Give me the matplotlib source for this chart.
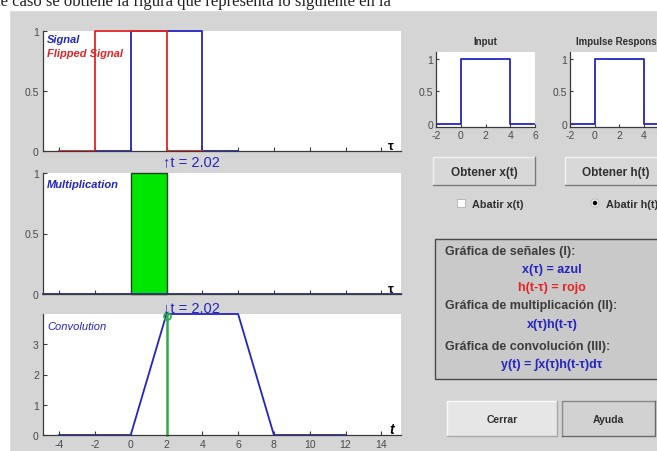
import numpy as np
import matplotlib.pyplot as plt
from matplotlib.patches import Rectangle, Circle

plt.rcParams['font.family'] = ['Liberation Sans', 'DejaVu Sans']
plt.rcParams['axes.unicode_minus'] = False

# instante de desplazamiento mostrado
t_shift = 2.02

# señal x(tau) y respuesta al impulso h(t)
tau_x = [-2, 0, 0, 4, 4, 6]
x_vals = [0, 0, 1, 1, 0, 0]
tau_h = [-2, 0, 0, 4, 4, 6]
h_vals = [0, 0, 1, 1, 0, 0]

# h(t - tau) abatida y desplazada a t = 2.02
tau_flip = [-3.98, -1.98, -1.98, 2.02, 2.02, 4.02]
flip_vals = [0, 0, 1, 1, 0, 0]

# producto x(tau)h(t - tau)
tau_mult = [0, 0, 2.02, 2.02]
mult_vals = [0, 1, 1, 0]
tau_base = [-4.9, 15.1]
base_vals = [0, 0]

# convolución y(t)
t_conv = [-4, 0, 2, 6, 8, 12]
y_conv = [0, 0, 4, 4, 0, 0]
y_at_shift = 4

x_ticks = [-4, -2, 0, 2, 4, 6, 8, 10, 12, 14]
small_ticks = [-2, 0, 2, 4, 6]

BLUE = '#2424c0'
RED = '#e42424'
GREEN = '#00e600'
GREEN_LINE = '#2eaa48'
GRAY_BG = '#d5d5d5'
AXC = '#3a3a3a'

W, H = 657, 452


def box(l, t, r, b):
    return [l / W, 1 - b / H, (r - l) / W, (b - t) / H]


fig = plt.figure(figsize=(W / 100, H / 100), dpi=100, facecolor=GRAY_BG)

# fondo de la ventana en coordenadas de pixel
bg = fig.add_axes([0, 0, 1, 1], zorder=-1)
bg.set_xlim(0, W)
bg.set_ylim(H, 0)
bg.axis('off')
bg.add_patch(Rectangle((0, 0), W, 11, color='white'))
bg.add_patch(Rectangle((0, 0), 9, H, color='white'))
bg.text(-4, 5.5, "te caso se obtiene la figura que representa lo siguiente en la",
        fontfamily='Liberation Serif', fontsize=12, va='baseline', ha='left',
        color='#202020')


def style_main(ax, ylim, yticks, ylabels, show_x=False):
    ax.set_xlim(-4.9, 15.1)
    ax.set_ylim(*ylim)
    for s in ['top', 'right']:
        ax.spines[s].set_visible(False)
    for s in ['left', 'bottom']:
        ax.spines[s].set_color(AXC)
        ax.spines[s].set_linewidth(0.9)
    ax.set_xticks(x_ticks)
    ax.set_yticks(yticks)
    ax.set_yticklabels(ylabels)
    ax.tick_params(direction='in', length=3, width=0.8, color=AXC,
                   labelsize=7.5, labelcolor='#4a4a4a', pad=3)
    if not show_x:
        ax.set_xticklabels([])


# I: señales
ax1 = fig.add_axes(box(43, 32, 401, 152))
style_main(ax1, (0, 1), [0, 0.5, 1], ['0', '0.5', '1'])
ax1.plot(tau_x, x_vals, color=BLUE, lw=1.3, clip_on=False)
ax1.plot(tau_flip, flip_vals, color=RED, lw=1.3, clip_on=False)
ax1.text(0.012, 0.93, "Signal", transform=ax1.transAxes, color=BLUE,
         fontsize=8, weight='bold', style='italic', va='center')
ax1.text(0.012, 0.82, "Flipped Signal", transform=ax1.transAxes, color=RED,
         fontsize=8, weight='bold', style='italic', va='center')
ax1.text(0.972, 0.045, "τ", transform=ax1.transAxes, fontsize=9.5,
         weight='bold', ha='center', va='center', color='black')
ax1.text(t_shift - 0.2, -0.085, f"↑t = {t_shift:.2f}", transform=ax1.get_xaxis_transform(),
         color=BLUE, fontsize=10.5, ha='left', va='center')

# II: multiplicación
ax2 = fig.add_axes(box(43, 174, 401, 295))
style_main(ax2, (0, 1), [0, 0.5, 1], ['0', '0.5', '1'])
ax2.fill(tau_mult, mult_vals, facecolor=GREEN, edgecolor='#204020', lw=1.0, clip_on=False)
ax2.plot(tau_base, base_vals, color=BLUE, lw=1.3, clip_on=False)
ax2.text(0.012, 0.91, "Multiplication", transform=ax2.transAxes, color=BLUE,
         fontsize=8, weight='bold', style='italic', va='center')
ax2.text(0.972, 0.045, "τ", transform=ax2.transAxes, fontsize=9.5,
         weight='bold', ha='center', va='center', color='black')

# III: convolución
ax3 = fig.add_axes(box(43, 315, 401, 436))
style_main(ax3, (0, 4), [0, 1, 2, 3], ['0', '1', '2', '3'], show_x=True)
ax3.plot(t_conv, y_conv, color=BLUE, lw=1.3, clip_on=False)
ax3.plot([t_shift, t_shift], [0, y_at_shift], color=GREEN_LINE, lw=1.8, clip_on=False)
ax3.plot([t_shift], [y_at_shift - 0.05], marker='o', ms=5, mfc='none',
         mec=GREEN_LINE, mew=1.2, clip_on=False)
ax3.text(0.012, 0.90, "Convolution", transform=ax3.transAxes, color=BLUE,
         fontsize=8, style='italic', va='center')
ax3.text(0.975, 0.05, "t", transform=ax3.transAxes, fontsize=10,
         weight='bold', style='italic', ha='center', va='center', color='black')
ax3.text(t_shift - 0.2, 1.06, f"↓t = {t_shift:.2f}", transform=ax3.get_xaxis_transform(),
         color=BLUE, fontsize=10.5, ha='left', va='center')


def style_small(ax, title):
    ax.set_xlim(-2, 6)
    ax.set_ylim(-0.05, 1.1)
    for s in ['top', 'right']:
        ax.spines[s].set_visible(False)
    for s in ['left', 'bottom']:
        ax.spines[s].set_color(AXC)
        ax.spines[s].set_linewidth(0.9)
    ax.set_xticks(small_ticks)
    ax.set_yticks([0, 0.5, 1])
    ax.set_yticklabels(['0', '0.5', '1'])
    ax.tick_params(direction='in', length=2.5, width=0.8, color=AXC,
                   labelsize=7.5, labelcolor='#4a4a4a', pad=2)
    ax.set_title(title, fontsize=7, weight='bold', color='#303030', pad=6)


ax_in = fig.add_axes(box(436, 53, 535, 128))
style_small(ax_in, "Input")
ax_in.plot(tau_x, x_vals, color=BLUE, lw=1.3)

ax_h = fig.add_axes(box(570, 53, 668, 128))
style_small(ax_h, "Impulse Response")
ax_h.plot(tau_h, h_vals, color=BLUE, lw=1.3)


def button(l, t, r, b, label, face='#d8d8d8', light='#f2f2f2', dark='#7a7a7a', size=7.5):
    bg.add_patch(Rectangle((l, t), r - l, b - t, facecolor=face, edgecolor='none'))
    bg.plot([l, l, r], [b, t, t], color=light, lw=1)
    bg.plot([l, r, r], [b, b, t], color=dark, lw=1)
    bg.text((l + r) / 2, (t + b) / 2 + 1, label, ha='center', va='center',
            fontsize=size, weight='bold', color='#303030')


button(433, 158, 535, 186, "Obtener x(t)", size=8.5)
button(565, 158, 667, 186, "Obtener h(t)", size=8.5)

# casilla y botón de radio
bg.add_patch(Rectangle((457, 200), 8, 8, facecolor='white', edgecolor='#b0b0b0', lw=0.6))
bg.text(472, 205, "Abatir x(t)", fontsize=7.8, weight='bold', color='#303030', va='center')
bg.add_patch(Circle((595, 204), 4, facecolor='white', edgecolor='#b0b0b0', lw=0.6))
bg.add_patch(Circle((595, 204), 1.6, color='black'))
bg.text(606, 205, "Abatir h(t)", fontsize=7.8, weight='bold', color='#303030', va='center')

# panel de leyenda
bg.add_patch(Rectangle((435, 240), 230, 140, facecolor='#c9c9c9',
                       edgecolor='#4a4a4a', lw=1.0))
DARK = '#3c3c3c'
info = [
    (445, 252, "Gráfica de señales (I):", DARK, 'left'),
    (552, 270, "x(τ) = azul", BLUE, 'center'),
    (552, 288, "h(t-τ) = rojo", RED, 'center'),
    (445, 306, "Gráfica de multiplicación (II):", DARK, 'left'),
    (552, 325, "x(τ)h(t-τ)", BLUE, 'center'),
    (445, 347, "Gráfica de convolución (III):", DARK, 'left'),
    (552, 365, "y(t) = ∫x(τ)h(t-τ)dτ", BLUE, 'center'),
]
for x, y, s, c, ha in info:
    bg.text(x, y, s, color=c, fontsize=9, weight='bold', ha=ha, va='center')

button(447, 402, 557, 437, "Cerrar", face='#e6e6e6', light='#fafafa', dark='#a8a8a8')
button(562, 402, 655, 437, "Ayuda", face='#d2d2d2', light='#8a8a8a', dark='#6a6a6a')

fig.savefig("out.png", dpi=100, facecolor=GRAY_BG)
